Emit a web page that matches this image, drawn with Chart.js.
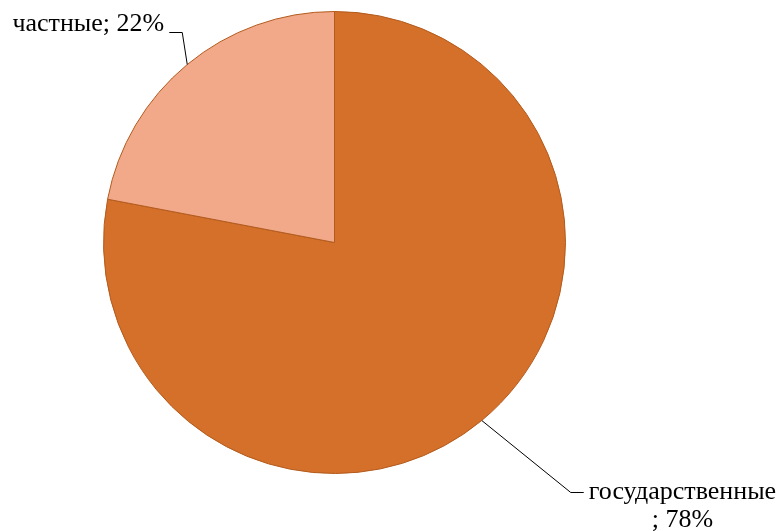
<!DOCTYPE html>
<html>
<head>
<meta charset="utf-8">
<script src="https://cdn.jsdelivr.net/npm/chart.js@4"></script>
<style>
  html, body { margin: 0; padding: 0; background: #fff; }
  #wrap { width: 784px; height: 531px; position: relative; }
</style>
</head>
<body>
<div id="wrap"><canvas id="pieChart"></canvas></div>
<script>
const labels = ['государственные', 'частные'];
const shares = [78, 22];
const colors = ['#D4702A', '#F1A98A'];

// leader line elbows and text placement relative to the slice edge
const leaders = [
    { dx: 89, dy: 72, tail: 13, side: 'right', lines: ['государственные', '; 78%'] },
    { dx: -5, dy: -32, tail: -13, side: 'left', lines: ['частные; 22%'] },
];

const leaderLabels = {
    id: 'leaderLabels',
    afterDraw(chart) {
        const ctx = chart.ctx;
        const meta = chart.getDatasetMeta(0);
        ctx.save();
        ctx.font = '26px "Liberation Serif", "Times New Roman", serif';
        ctx.fillStyle = '#000';
        ctx.strokeStyle = '#000';
        ctx.lineWidth = 1;
        meta.data.forEach((arc, i) => {
            const p = arc.getProps(['x', 'y', 'startAngle', 'endAngle', 'outerRadius'], true);
            const mid = (p.startAngle + p.endAngle) / 2;
            const ex = p.x + Math.cos(mid) * p.outerRadius;
            const ey = p.y + Math.sin(mid) * p.outerRadius;
            const cfg = leaders[i];
            const kx = ex + cfg.dx;
            const ky = ey + cfg.dy;
            const tx = kx + cfg.tail;
            ctx.beginPath();
            ctx.moveTo(ex, ey);
            ctx.lineTo(kx, ky);
            ctx.lineTo(tx, ky);
            ctx.stroke();
            ctx.textBaseline = 'middle';
            if (cfg.side === 'right') {
                const first = cfg.lines[0];
                const w = ctx.measureText(first).width;
                const left = tx + 5;
                ctx.textAlign = 'left';
                ctx.fillText(first, left, ky);
                ctx.textAlign = 'center';
                ctx.fillText(cfg.lines[1], left + w / 2, ky + 28);
            } else {
                ctx.textAlign = 'right';
                ctx.fillText(cfg.lines[0], tx - 5, ky - 8);
            }
        });
        ctx.restore();
    }
};

new Chart(document.getElementById('pieChart'), {
    type: 'pie',
    data: {
        labels,
        datasets: [{
            data: shares,
            backgroundColor: colors,
            borderColor: '#B35A1C',
            borderWidth: 1,
            hoverOffset: 0,
        }],
    },
    options: {
        responsive: true,
        maintainAspectRatio: false,
        animation: false,
        layout: {
            padding: { top: 11, bottom: 57, left: 103, right: 218 },
        },
        plugins: {
            legend: { display: false },
            tooltip: { enabled: false },
        },
    },
    plugins: [leaderLabels],
});
</script>
</body>
</html>
